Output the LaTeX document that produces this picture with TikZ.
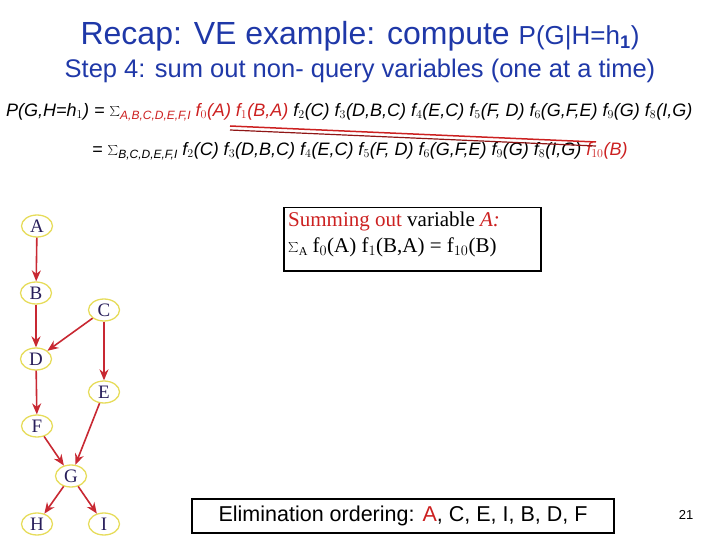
\documentclass[tikz,border=0pt]{standalone}
\usepackage{fontspec}
\setmainfont{Liberation Sans}
\newfontfamily\serif{Liberation Serif}
\usetikzlibrary{shapes.geometric,arrows.meta}
\definecolor{tblue}{RGB}{31,56,168}
\definecolor{fred}{RGB}{204,32,32}
\definecolor{ered}{RGB}{200,40,50}
\definecolor{yel}{RGB}{230,220,90}
\definecolor{ink}{RGB}{40,30,90}
\newcommand{\sbs}[1]{\raisebox{-3pt}{\fontsize{12}{13}\selectfont #1}}
\begin{document}
\begin{tikzpicture}[x=1pt,y=-1pt,
  bn/.style={ellipse,draw=yel,line width=1.3pt,minimum width=31pt,minimum height=22pt,inner sep=0pt,font=\serif\fontsize{19}{20}\selectfont,text=ink},
  arr/.style={ered,line width=1.6pt,-{Stealth[length=11pt,width=9pt]}},
  fm/.style={font=\itshape\fontsize{18}{20}\selectfont,inner sep=0pt,anchor=west}]
\useasboundingbox (0,0) rectangle (720,540);
\node[text=tblue,font=\fontsize{32}{34}\selectfont] (t1) at (360,36) {Recap: VE example: compute \fontsize{26}{30}\selectfont P(G|H=h$_{\mathbf 1}$)};
\node[text=tblue,font=\fontsize{25.5}{30}\selectfont] (t2) at (360,71) {Step 4: sum out non- query variables (one at a time)};
\node[fm] (e1) at (6,112) {P(G,H=h$_{1}$) = $\sum$\textcolor{fred}{\sbs{A,B,C,D,E,F,I}} \textcolor{fred}{f$_0$(A) f$_1$(B,A)} f$_2$(C) f$_3$(D,B,C) f$_4$(E,C) f$_5$(F, D) f$_6$(G,F,E) f$_9$(G) f$_8$(I,G)};
\node[fm] (e2) at (92,151) {= $\sum$\sbs{B,C,D,E,F,I} f$_2$(C) f$_3$(D,B,C) f$_4$(E,C) f$_5$(F, D) f$_6$(G,F,E) f$_9$(G) f$_8$(I,G) \textcolor{fred}{f$_{10}$(B)}};
\coordinate (u1) at (230,126); \coordinate (v1) at (596,142);
\coordinate (u2) at (230,130); \coordinate (v2) at (596,146);
\draw[fred,line width=1.5pt] (u1) -- (v1);
\draw[fred!70!black,line width=1.2pt] (u2) -- (v2);
\node[draw,line width=1.5pt,minimum width=257pt,minimum height=63pt,anchor=north west] (box) at (283,207) {};
\node[anchor=north west,font=\serif\fontsize{21}{24}\selectfont,align=left,inner sep=0pt] (bt) at (288,212) {\textcolor{fred}{Summing out} variable \textcolor{fred}{\itshape A:}\\[2pt] $\sum$\sbs{A} f$_0$(A) f$_1$(B,A) = f$_{10}$(B)};
\node[draw,line width=1.2pt,minimum width=422pt,minimum height=34pt] (el) at (403,516) {};
\node[font=\fontsize{21.5}{24}\selectfont] (elt) at (403,516) {Elimination ordering: \textcolor{fred}{A}, C, E, I, B, D, F};
\node[font=\fontsize{13}{15}\selectfont] (pg) at (686,515) {21};
\node[bn] (A) at (37,226) {A};
\node[bn] (B) at (36,293) {B};
\node[bn] (C) at (104,310) {C};
\node[bn] (D) at (36,359) {D};
\node[bn] (E) at (104,392) {E};
\node[bn] (F) at (37,426) {F};
\node[bn] (G) at (71,476) {G};
\node[bn] (H) at (37,524) {H};
\node[bn] (I) at (104,524) {I};
\draw[arr] (A) -- (B);
\draw[arr] (B) -- (D);
\draw[arr] (C) -- (D);
\draw[arr] (C) -- (E);
\draw[arr] (D) -- (F);
\draw[arr] (F) -- (G);
\draw[arr] (E) -- (G);
\draw[arr] (G) -- (H);
\draw[arr] (G) -- (I);
\end{tikzpicture}
\end{document}
